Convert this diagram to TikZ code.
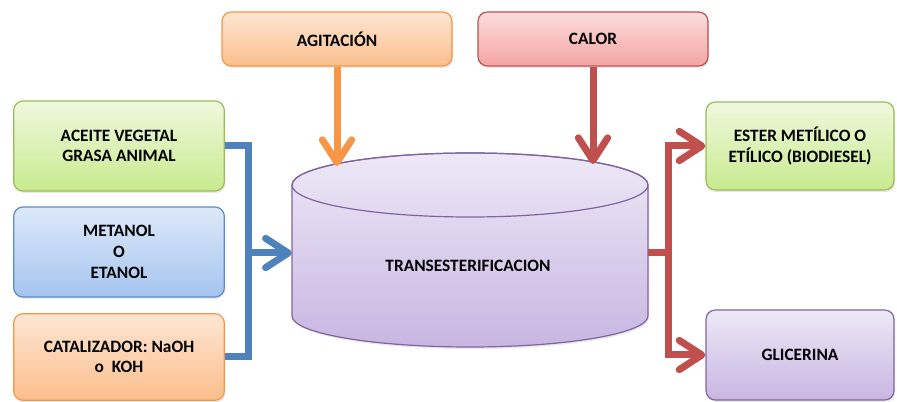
\documentclass[tikz,border=0pt]{standalone}
\usepackage{fontspec}
\setmainfont{Carlito}
\usetikzlibrary{arrows.meta,shadows}

\definecolor{grnline}{HTML}{9BBB59}
\definecolor{grntop}{HTML}{EFF8DE}
\definecolor{grnbot}{HTML}{C8EB8E}
\definecolor{bluline}{HTML}{5B8BC8}
\definecolor{blutop}{HTML}{DDE9F9}
\definecolor{blubot}{HTML}{A6C4F0}
\definecolor{orgline}{HTML}{F79646}
\definecolor{orgtop}{HTML}{FDE6D3}
\definecolor{orgbot}{HTML}{FBBE8C}
\definecolor{redline}{HTML}{C0504D}
\definecolor{redtop}{HTML}{FCDCDC}
\definecolor{redbot}{HTML}{F5A4A4}
\definecolor{purline}{HTML}{8064A2}
\definecolor{purtop}{HTML}{EEE8F7}
\definecolor{purbot}{HTML}{C8B6E2}
\definecolor{flowblue}{HTML}{4F81BD}

\begin{document}
\begin{tikzpicture}[x=0.75pt, y=-0.75pt,
        font=\bfseries\fontsize{13}{15.5}\selectfont,
        box/.style={rounded corners=7pt, draw, line width=0.9pt, align=center,
            drop shadow={opacity=0.18, shadow xshift=0.8pt, shadow yshift=-1.5pt}},
        greenbox/.style={box, draw=grnline, top color=grntop, bottom color=grnbot},
        bluebox/.style={box, draw=bluline, top color=blutop, bottom color=blubot},
        orangebox/.style={box, draw=orgline, top color=orgtop, bottom color=orgbot},
        redbox/.style={box, draw=redline, top color=redtop, bottom color=redbot},
        purplebox/.style={box, draw=purline, top color=purtop, bottom color=purbot},
        flow/.style={line width=5.25pt},
        tip/.style={-{Straight Barb[length=17pt, width=22pt, round]}}]
        \useasboundingbox (0,0) rectangle (897,402);

        % inputs
        \node[greenbox, minimum width=158pt, minimum height=67.5pt] (aceite) at (119,146) {ACEITE VEGETAL\\GRASA ANIMAL};
        \node[bluebox, minimum width=158pt, minimum height=67.5pt] (metanol) at (119,252) {METANOL\\O\\ETANOL};
        \node[orangebox, minimum width=158pt, minimum height=65pt] (catal) at (119,357) {CATALIZADOR: NaOH\\o\ \ KOH};
        \node[orangebox, minimum width=172.5pt, minimum height=40.5pt] (agit) at (337,39) {AGITACIÓN};
        \node[redbox, minimum width=172.5pt, minimum height=40.5pt] (calor) at (593,39) {CALOR};

        % reactor
        \path[top color=purtop, bottom color=purbot, draw=purline, line width=0.9pt,
            drop shadow={opacity=0.18, shadow xshift=0.8pt, shadow yshift=-1.5pt}]
            (292,185) -- (292,316) arc[start angle=180, end angle=0, x radius=178, y radius=31]
            -- (648,185) arc[start angle=0, end angle=-180, x radius=178, y radius=32] -- cycle;
        \draw[purline, line width=0.9pt] (470,185) ellipse[x radius=178, y radius=32];
        \node[minimum width=267pt, minimum height=146pt] (cyl) at (470,250) {};
        \node (cyltext) at (468,266) {TRANSESTERIFICACION};

        % outputs
        \node[greenbox, minimum width=141pt, minimum height=66pt] (ester) at (800,146) {ESTER METÍLICO O\\ETÍLICO (BIODIESEL)};
        \node[purplebox, minimum width=141pt, minimum height=67.5pt] (glic) at (800,355) {GLICERINA};

        \coordinate (busl) at (248,146);
        \coordinate (busr) at (668,253);
        \coordinate (tipa) at (337,166);
        \coordinate (tipc) at (593,164);

        \draw[flow, flowblue] (aceite.east) -- (busl) |- (catal.east);
        \draw[flow, flowblue, tip] (busl |- busr) -- (cyl.west |- busr);

        \draw[flow, orgline, tip] (agit.south) -- (tipa);
        \draw[flow, redline, tip] (calor.south) -- (tipc);

        \draw[flow, redline] (cyl.east |- busr) -- (busr);
        \draw[flow, redline, tip] (busr) |- (ester.west);
        \draw[flow, redline, tip] (busr) |- (glic.west);
    \end{tikzpicture}
\end{document}
